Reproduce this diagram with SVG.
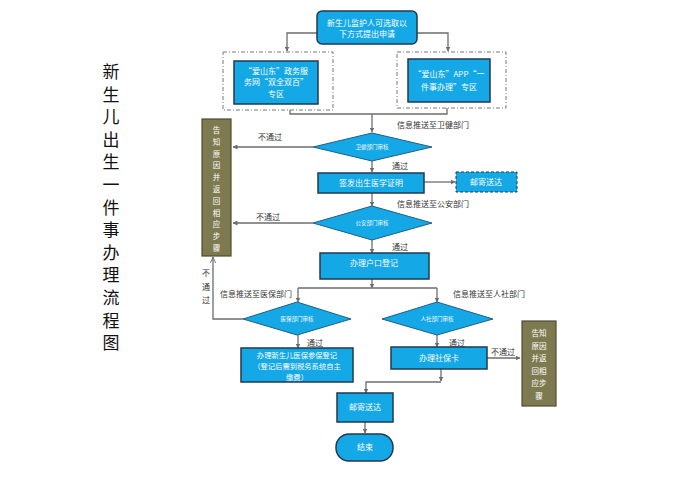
<svg xmlns="http://www.w3.org/2000/svg" width="700" height="486" viewBox="0 0 700 486">
<defs>
<marker id="ah" viewBox="0 0 10 10" refX="9" refY="5" markerWidth="5" markerHeight="5" orient="auto" markerUnits="userSpaceOnUse">
<path d="M0,0 L10,5 L0,10 z" fill="#6d6d6d"/>
</marker>
<marker id="oh" viewBox="0 0 10 10" refX="9" refY="5" markerWidth="7" markerHeight="7" orient="auto" markerUnits="userSpaceOnUse">
<path d="M0,1 L9,5 L0,9" fill="none" stroke="#6d6d6d" stroke-width="1.3"/>
</marker>
<style>
text{font-family:"Noto Sans CJK SC","Noto Sans",sans-serif}
.b{fill:#15a8e6;stroke:#24394d;stroke-width:1.5}
.d{fill:#15a8e6;stroke:#1f5f86;stroke-width:1}
.dash{fill:#15a8e6;stroke:#24394d;stroke-width:1;stroke-dasharray:3 2}
.o{fill:#fff;stroke:#777;stroke-width:1;stroke-dasharray:4 2 1 2}
.t{fill:#7e7a50;stroke:#4f4c33;stroke-width:1.2}
.w{fill:#fff;font-size:8px;text-anchor:middle}
.w2{fill:#fff;font-size:7.3px;text-anchor:middle}
.ws{fill:#fff;font-size:5.5px;text-anchor:middle}
.tw{fill:#fff;font-size:7.5px;text-anchor:middle}
.l{fill:#333;font-size:8px}
.lm{fill:#333;font-size:8px;text-anchor:middle}
.c{fill:none;stroke:#6d6d6d;stroke-width:1.3}
.title{fill:#111;font-size:17px;text-anchor:middle}
</style>
</defs>
<rect width="700" height="486" fill="#fff"/>

<g id="title">
<text class="title" x="111"><tspan x="111" y="78">新</tspan><tspan x="111" y="100.6">生</tspan><tspan x="111" y="123.2">儿</tspan><tspan x="111" y="145.8">出</tspan><tspan x="111" y="168.4">生</tspan><tspan x="111" y="191">一</tspan><tspan x="111" y="213.6">件</tspan><tspan x="111" y="236.2">事</tspan><tspan x="111" y="258.8">办</tspan><tspan x="111" y="281.4">理</tspan><tspan x="111" y="304">流</tspan><tspan x="111" y="326.6">程</tspan><tspan x="111" y="349.2">图</tspan></text>
</g>

<g id="connectors">
<path class="c" d="M317,33 H287 V51" marker-end="url(#ah)"/>
<path class="c" d="M417,33 H448 V51" marker-end="url(#ah)"/>
<path class="c" d="M290,104 V114 H447 V102"/>
<path class="c" d="M372,114 V132" marker-end="url(#ah)"/>
<path class="c" d="M313,147 H233" marker-end="url(#ah)"/>
<path class="c" d="M372,161 V172" marker-end="url(#ah)"/>
<path class="c" d="M424,182 H455" marker-end="url(#ah)"/>
<path class="c" d="M372,193 V206" marker-end="url(#ah)"/>
<path class="c" d="M313,223 H233" marker-end="url(#ah)"/>
<path class="c" d="M372,240 V253" marker-end="url(#ah)"/>
<path class="c" d="M372,279 V288" marker-end="url(#ah)"/>
<path class="c" d="M298,288 H437"/>
<path class="c" d="M298,288 V302" marker-end="url(#ah)"/>
<path class="c" d="M437,288 V302" marker-end="url(#ah)"/>
<path class="c" d="M243,319 H213 V257" marker-end="url(#oh)"/>
<path class="c" d="M298,335 V348" marker-end="url(#ah)"/>
<path class="c" d="M437,335 V347" marker-end="url(#ah)"/>
<path class="c" d="M487,358 H520" marker-end="url(#ah)"/>
<path class="c" d="M441,369 V381" marker-end="url(#ah)"/>
<path class="c" d="M441,382 H366 V393" marker-end="url(#ah)"/>
<path class="c" d="M365,422 V433" marker-end="url(#ah)"/>
<text class="l" x="397" y="128">信息推送至卫健部门</text>
<text class="lm" x="270" y="140">不通过</text>
<text class="lm" x="400" y="169">通过</text>
<text class="l" x="397" y="207">信息推送至公安部门</text>
<text class="lm" x="268" y="220">不通过</text>
<text class="lm" x="400" y="250">通过</text>
<text class="l" x="220" y="297">信息推送至医保部门</text>
<text class="l" x="453" y="297">信息推送至人社部门</text>
<text class="lm" x="315" y="346">通过</text>
<text class="lm" x="457" y="346">通过</text>
<text class="lm" x="503" y="355">不通过</text>
<text class="lm" x="206"><tspan x="206" y="276">不</tspan><tspan x="206" y="290">通</tspan><tspan x="206" y="303">过</tspan></text>
</g>

<g id="start">
<rect class="b" x="317" y="11" width="100" height="33" rx="5"/>
<text class="w" x="367" y="26">新生儿监护人可选取以</text>
<text class="w" x="367" y="37">下方式提出申请</text>
</g>

<g id="web">
<rect class="o" x="223" y="52" width="110" height="58"/>
<rect class="b" x="234" y="61" width="84" height="43"/>
<text class="w" x="276" y="74">“爱山东”政务服</text>
<text class="w" x="276" y="85">务网“双全双百”</text>
<text class="w" x="276" y="97">专区</text>
</g>

<g id="app">
<rect class="o" x="397" y="52" width="109" height="56"/>
<rect class="b" x="408" y="59" width="82" height="43"/>
<text class="w" x="449" y="77">“爱山东”APP“一</text>
<text class="w" x="449" y="90">件事办理”专区</text>
</g>

<g id="wj">
<polygon class="d" points="372,133 432,147 372,161 313,147"/>
<text class="ws" x="372" y="149">卫健部门审核</text>
</g>

<g id="cert">
<rect class="b" x="318" y="173" width="106" height="20"/>
<text class="w" x="371" y="186">签发出生医学证明</text>
</g>

<g id="mail1">
<rect class="dash" x="456" y="172" width="61" height="20"/>
<text class="w" x="486" y="185">邮寄送达</text>
</g>

<g id="ga">
<polygon class="d" points="372,206 432,223 372,240 313,223"/>
<text class="ws" x="372" y="225">公安部门审核</text>
</g>

<g id="hukou">
<rect class="b" x="320" y="253" width="109" height="26"/>
<text class="w" x="374" y="266">办理户口登记</text>
</g>

<g id="yb">
<polygon class="d" points="297,302 351,319 297,335 243,319"/>
<text class="ws" x="297" y="321">医保部门审核</text>
</g>

<g id="rs">
<polygon class="d" points="437,302 493,319 437,335 382,319"/>
<text class="ws" x="437" y="321">人社部门审核</text>
</g>

<g id="ybreg">
<rect class="b" x="241" y="348" width="112" height="34"/>
<text class="w2" x="297" y="358">办理新生儿医保参保登记</text>
<text class="w2" x="297" y="369">（登记后需到税务系统自主</text>
<text class="w2" x="297" y="380">缴费）</text>
</g>

<g id="sbk">
<rect class="b" x="391" y="347" width="96" height="22"/>
<text class="w" x="439" y="361">办理社保卡</text>
</g>

<g id="mail2">
<rect class="b" x="337" y="393" width="56" height="29"/>
<text class="w" x="365" y="410">邮寄送达</text>
</g>

<g id="end">
<rect class="b" x="336" y="434" width="57" height="27" rx="13"/>
<text class="w" x="365" y="450">结束</text>
</g>

<g id="reject-left">
<rect class="t" x="202" y="119" width="29" height="137"/>
<text class="tw" x="216.5"><tspan x="216.5" y="133">告</tspan><tspan x="216.5" y="144.8">知</tspan><tspan x="216.5" y="156.6">原</tspan><tspan x="216.5" y="168.4">因</tspan><tspan x="216.5" y="180.2">并</tspan><tspan x="216.5" y="192">返</tspan><tspan x="216.5" y="203.8">回</tspan><tspan x="216.5" y="215.6">相</tspan><tspan x="216.5" y="227.4">应</tspan><tspan x="216.5" y="239.2">步</tspan><tspan x="216.5" y="251">骤</tspan></text>
</g>

<g id="reject-right">
<rect class="t" x="522" y="321" width="34" height="85"/>
<text class="tw" x="539"><tspan x="539" y="336">告知</tspan><tspan x="539" y="348.5">原因</tspan><tspan x="539" y="361">并返</tspan><tspan x="539" y="373.5">回相</tspan><tspan x="539" y="386">应步</tspan><tspan x="539" y="398.5">骤</tspan></text>
</g>
</svg>
